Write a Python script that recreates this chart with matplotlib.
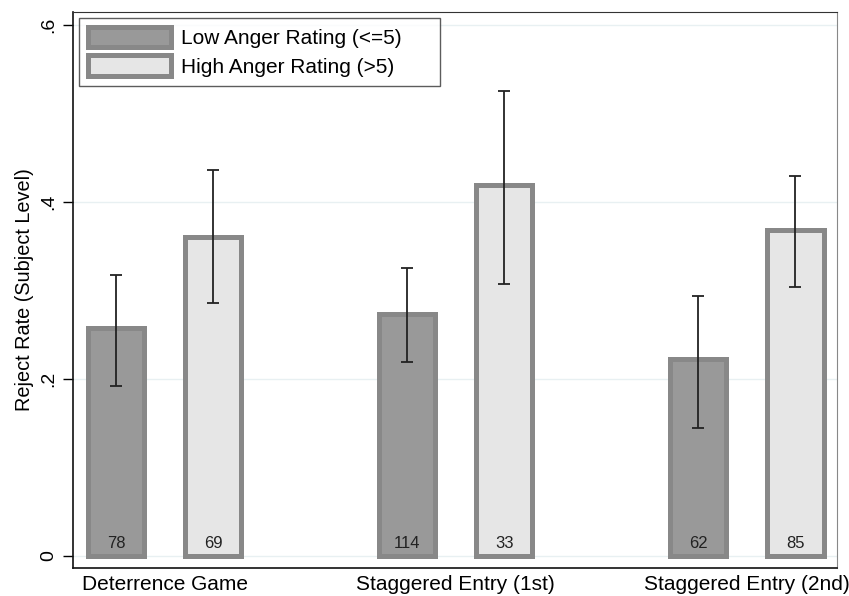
import numpy as np
import matplotlib.pyplot as plt

plt.rcParams["font.family"] = ["Liberation Sans", "DejaVu Sans"]

groups = ["Deterrence Game", "Staggered Entry (1st)", "Staggered Entry (2nd)"]
series = ["Low Anger Rating (<=5)", "High Anger Rating (>5)"]

low_rate = [0.258, 0.274, 0.223]
low_lo = [0.192, 0.219, 0.145]
low_hi = [0.318, 0.326, 0.294]
low_n = [78, 114, 62]

high_rate = [0.361, 0.419, 0.369]
high_lo = [0.286, 0.307, 0.304]
high_hi = [0.436, 0.526, 0.429]
high_n = [69, 33, 85]

fills = ["#999999", "#e6e6e6"]
edge = "#888888"

fig = plt.figure(figsize=(8.49, 5.96), dpi=100)
ax = fig.add_axes([0.086, 0.047, 0.900, 0.933])

base = np.arange(len(groups)) * 3.0
width = 0.58

for k, (rate, lo, hi, n) in enumerate([
    (low_rate, low_lo, low_hi, low_n),
    (high_rate, high_lo, high_hi, high_n),
]):
    x = base + k
    ax.bar(x, rate, width=width, color=fills[k], edgecolor=edge,
           linewidth=3.6, label=series[k], zorder=2)
    rate = np.array(rate)
    yerr = [rate - np.array(lo), np.array(hi) - rate]
    ax.errorbar(x, rate, yerr=yerr, fmt="none", ecolor="#222222",
                elinewidth=1.3, capsize=4.5, capthick=1.3, zorder=3)
    for xi, ni in zip(x, n):
        ax.text(xi, 0.0145, str(ni), ha="center", va="center",
                fontsize=12, color="#222222", zorder=4)

ax.set_xlim(-0.443, 7.43)
ax.set_ylim(-0.0136, 0.615)

ax.set_yticks([0, 0.2, 0.4, 0.6])
ax.set_yticklabels(["0", ".2", ".4", ".6"], rotation=90, va="center",
                   fontsize=14)
ax.set_xticks(base + 0.5)
ax.set_xticklabels(groups, fontsize=15)
ax.tick_params(axis="x", length=0, pad=5)
ax.tick_params(axis="y", length=7, width=1, pad=4)
ax.set_ylabel("Reject Rate (Subject Level)", fontsize=14.3, labelpad=5)

for y in [0, 0.2, 0.4, 0.6]:
    ax.axhline(y, color="#e8f0f2", linewidth=1, zorder=0)

for side in ["left", "bottom"]:
    ax.spines[side].set_color("#111111")
    ax.spines[side].set_linewidth(1.2)
ax.spines["top"].set_color("#333333")
ax.spines["right"].set_color("#888888")

# legend box is wider than its text, Stata style
leg = ax.legend(loc="upper left", bbox_to_anchor=(0.008, 0.5, 0.4725, 0.489),
                mode="expand", fontsize=15, frameon=True, fancybox=False,
                handlelength=4.0, handleheight=1.15, borderpad=0.42,
                labelspacing=0.35, handletextpad=0.45, borderaxespad=0)
leg.get_frame().set_edgecolor("#333333")
leg.get_frame().set_linewidth(1)

fig.savefig("out.png", dpi=100)
